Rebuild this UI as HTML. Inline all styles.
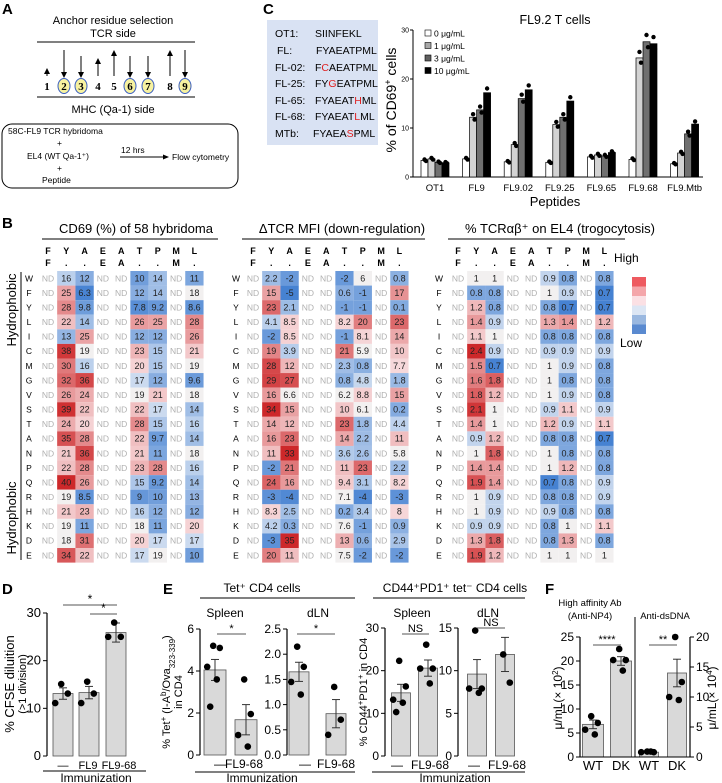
<!DOCTYPE html>
<html><head><meta charset="utf-8">
<style>
html,body{margin:0;padding:0;background:#fff;}
svg{display:block;font-family:"Liberation Sans",Arial,sans-serif;}
</style></head>
<body>
<svg id="fig" width="722" height="783" viewBox="0 0 722 783" xmlns="http://www.w3.org/2000/svg">
<!-- Panel A -->
<g>
<text x="2" y="14" font-size="15" font-weight="bold">A</text>
<text x="113" y="24" font-size="11" text-anchor="middle">Anchor residue selection</text>
<text x="113" y="37" font-size="11" text-anchor="middle">TCR side</text>
<line x1="37" y1="42" x2="195" y2="42" stroke="#000" stroke-width="1"/>
<line x1="37" y1="97" x2="195" y2="97" stroke="#000" stroke-width="1"/>
<text x="113" y="113" font-size="11" text-anchor="middle">MHC (Qa-1) side</text>
<g id="arrows"></g>
<rect x="2" y="124" width="236" height="64" rx="10" fill="none" stroke="#000" stroke-width="1"/>
<text x="8" y="134" font-size="8.5">58C-FL9 TCR hybridoma</text>
<text x="57" y="146" font-size="8.5">+</text>
<text x="27" y="159" font-size="8.5">EL4 (WT Qa-1⁺)</text>
<text x="57" y="171" font-size="8.5">+</text>
<text x="42" y="183" font-size="8.5">Peptide</text>
<text x="121" y="153" font-size="8.5">12 hrs</text>
<line x1="120" y1="157" x2="164" y2="157" stroke="#000"/>
<polygon points="169,157 163,154.5 163,159.5" fill="#000"/>
<text x="172" y="160" font-size="8.5">Flow cytometry</text>
</g>
<!-- Panel C -->
<g>
<text x="263" y="14" font-size="15" font-weight="bold">C</text>
<rect x="267" y="20" width="111" height="125" fill="#d9e2f3"/>
<g font-size="10.5">
<text x="275" y="37">OT1:</text><text x="315" y="37">SIINFEKL</text>
<text x="277" y="54">FL:</text><text x="316" y="54">FYAEATPML</text>
<text x="275" y="71">FL-02:</text><text x="315" y="71">F<tspan fill="#e02020">C</tspan>AEATPML</text>
<text x="275" y="87">FL-25:</text><text x="315" y="87">FY<tspan fill="#e02020">G</tspan>EATPML</text>
<text x="275" y="104">FL-65:</text><text x="315" y="104">FYAEAT<tspan fill="#e02020">H</tspan>ML</text>
<text x="275" y="120">FL-68:</text><text x="315" y="120">FYAEAT<tspan fill="#e02020">L</tspan>ML</text>
<text x="275" y="137">MTb:</text><text x="313" y="137">FYAEA<tspan fill="#e02020">S</tspan>PML</text>
</g>
<g id="chartC"></g>
</g>
<!-- Panel B -->
<g>
<text x="2" y="228" font-size="15" font-weight="bold">B</text>
<text x="136" y="233" font-size="13" text-anchor="middle">CD69 (%) of 58 hybridoma</text>
<text x="342" y="233" font-size="13" text-anchor="middle">ΔTCR MFI (down-regulation)</text>
<text x="560" y="233" font-size="13" text-anchor="middle">% TCRαβ⁺ on EL4 (trogocytosis)</text>
<line x1="42" y1="239" x2="218" y2="239" stroke="#000"/>
<line x1="242" y1="239" x2="425" y2="239" stroke="#000"/>
<line x1="448" y1="239" x2="625" y2="239" stroke="#000"/>
<text transform="translate(16,310) rotate(-90)" font-size="13" text-anchor="middle">Hydrophobic</text>
<text transform="translate(16,518) rotate(-90)" font-size="13" text-anchor="middle">Hydrophobic</text>
<line x1="21" y1="272" x2="21" y2="560" stroke="#000"/>
<g id="heatmaps"></g>
<text x="614" y="262" font-size="12">High</text>
<g id="legendB"></g>
<text x="620" y="347" font-size="12">Low</text>
</g>
<g id="panelD"></g>
<g id="panelE"></g>
<g id="panelF"></g>
</svg>
<script>
// ---------- Panel C data ----------
const cCategories = ["OT1","FL9","FL9.02","FL9.25","FL9.65","FL9.68","FL9.Mtb"];
const cDose0 = [3.4,3.7,3.1,3.0,4.1,3.6,2.7];
const cDose1 = [3.7,12.2,6.6,10.7,4.5,24.3,4.9];
const cDose3 = [3.0,13.7,16.0,12.2,4.3,27.6,8.8];
const cDose10 = [2.9,17.2,17.8,15.5,5.0,27.2,10.8];
const cTicks = [0,10,20,30];
const cLegend = ["0 μg/mL","1 μg/mL","3 μg/mL","10 μg/mL"];
// ---------- Panel B data ----------
const rowsB = ["W","F","Y","L","I","C","M","G","V","S","T","A","N","P","Q","R","H","K","D","E"];
const headTop = ["F","Y","A","E","A","T","P","M","L"];
const headBot = ["F",".",".","E","A",".",".","M","."];
const h1Y = [16,25,28,22,13,38,30,32,26,39,24,35,21,22,40,19,21,19,18,34];
const h1A = [12,6.3,9.8,14,25,19,16,36,24,22,20,28,36,28,26,8.5,23,11,31,22];
const h1T = [10,12,7.8,26,12,23,20,17,19,22,28,22,21,23,15,9,16,18,20,17];
const h1P = [14,14,9.2,25,12,15,15,12,21,17,15,9.7,11,28,9.2,10,12,11,17,19];
const h1L = [11,18,8.6,28,26,21,19,9.6,18,14,16,14,18,16,14,13,12,20,17,10];
const h2Y = [2.2,15,23,4.1,-2,19,28,29,16,34,14,16,11,-2,24,-3,8.3,4.2,-3,20];
const h2A = [-2,-5,2.1,8.5,8.5,3.9,12,27,6.6,15,12,23,33,21,16,-4,2.5,0.3,35,11];
const h2T = [-2,0.6,-1,8.2,-1,21,2.3,0.8,6.2,10,23,14,3.6,11,9.4,7.1,0.2,7.6,13,7.5];
const h2P = [6,-1,-1,20,8.1,5.9,0.8,4.8,8.8,6.1,1.8,2.2,2.6,23,3.1,-4,3.4,-1,0.6,-2];
const h2L = [0.8,17,0.1,23,14,10,7.7,1.8,15,0.2,4.4,11,5.8,2.2,8.2,-3,8,0.9,2.9,-2];
const h3Y = [1,0.8,1.2,1.4,1.1,2.4,1.5,1.6,1.8,2.1,1.4,0.9,1,1.4,1.9,1,1,0.9,1.3,1.9];
const h3A = [1,0.8,0.8,0.9,1,0.9,0.7,1.8,1.2,1,1,1.2,1.8,1.4,1.4,0.9,0.9,0.9,1.8,1.2];
const h3T = [0.9,1,0.8,1.3,0.8,0.9,1,1,1,0.9,1.2,0.8,1,1,0.7,0.8,0.9,0.8,0.8,1];
const h3P = [0.8,0.9,0.7,1.4,0.8,0.9,0.9,0.8,0.9,1.1,0.9,0.8,0.8,1.2,0.8,0.8,0.8,1,1.3,1];
const h3L = [0.8,0.7,0.7,1.2,0.8,0.9,0.8,0.8,0.8,0.9,1.1,0.7,0.8,0.8,0.9,0.9,0.8,1.1,0.8,1];
// ---------- Panel D data ----------
const dCategories = ["—","FL9","FL9-68"];
const dMeans = [13.1,13.3,25.9];
const dSem = [1.2,1.3,2.0];
const dPoints = [[15.1,13.1,11.1],[15.6,13.1,11.1],[28,25,25]];
const dTicks = [0,10,20,30];
// ---------- Panel E data ----------
const eCategories = ["—","FL9-68"];
const e1Means = [4.05,1.68], e1Sem=[0.5,0.72], e1Points=[[5.2,5.1,4.2,3.6,2.3],[3.6,1.95,0.95,0.4]], e1Ticks=[0,2,4,6];
const e2Means = [1.65,0.82], e2Sem=[0.19,0.28], e2Points=[[2.15,1.75,1.45,1.2],[1.35,0.7,0.4]], e2Ticks=[0,0.5,1.0,1.5,2.0,2.5];
const e3Means = [14.8,20.6], e3Sem=[2.0,1.9], e3Points=[[22.3,16.3,13.2,12.5,10.3],[26.1,20.5,20.5,17]], e3Ticks=[0,10,20,30];
const e4Means = [9.6,11.9], e4Sem=[1.7,2.0], e4Points=[[14.7,7.9,7.9,7.4],[11.9,8.6]], e4Ticks=[0,5,10,15];
// ---------- Panel F data ----------
const fCategories = ["WT","DK"];
const f1Means = [6.8,20.0], f1Sem=[0.9,0.9], f1Points=[[8.5,7.1,5.7,4.7],[22.5,20.2,20.2,18]], f1Ticks=[0,5,10,15,20,25];
const f2Means = [0.8,14.0], f2Sem=[0.15,2.3], f2Points=[[0.9,0.8,0.8,0.9],[20,12.5,10,9.5]], f2Ticks=[0,5,10,15,20];

const NS="http://www.w3.org/2000/svg";
function mk(tag, attrs, parent){const e=document.createElementNS(NS,tag);for(const k in attrs)e.setAttribute(k,attrs[k]);if(parent)parent.appendChild(e);return e;}
function txt(x,y,s,size,anchor,parent,extra){const t=mk("text",Object.assign({x:x,y:y,"font-size":size,"text-anchor":anchor||"start"},extra||{}),parent);t.textContent=s;return t;}

// ---------- Panel A arrows ----------
(function(){
 const g=document.getElementById("arrows");
 const xs=[47,64,81,98,114,130,148,170,185];
 const dir=["u","d","d","u","u","d","d","u","d"];
 const top=[68,50,56,58,50,56,56,50,50];
 const circ=[false,true,true,false,false,true,true,false,true];
 xs.forEach((x,i)=>{
  if(dir[i]==="u"){mk("line",{x1:x,y1:76,x2:x,y2:top[i]+5,stroke:"#000"},g);mk("polygon",{points:`${x},${top[i]} ${x-3},${top[i]+6} ${x+3},${top[i]+6}`},g);}
  else{mk("line",{x1:x,y1:top[i],x2:x,y2:73,stroke:"#000"},g);mk("polygon",{points:`${x},78 ${x-3},72 ${x+3},72`},g);}
  if(circ[i])mk("ellipse",{cx:x,cy:86,rx:6,ry:7.5,fill:"#f7f2a0",stroke:"#3b5fc0","stroke-width":1},g);
  const t=txt(x,90,String(i+1),11,"middle",g,{"font-family":"Liberation Serif, serif","font-weight":"bold"});
  
  
 });
})();

// ---------- Panel C chart ----------
(function(){
 const g=document.getElementById("chartC");
 const x0=413,x1=703,y0=177,yTop=30;
 const ys=v=>y0-(v/30)*(y0-yTop);
 const xc=i=>435+i*41.6;
 mk("line",{x1:x0,y1:yTop,x2:x0,y2:y0,stroke:"#000"},g);
 mk("line",{x1:x0,y1:y0,x2:x1,y2:y0,stroke:"#000"},g);
 cTicks.forEach(t=>{mk("line",{x1:x0-3,y1:ys(t),x2:x0,y2:ys(t),stroke:"#000"},g);txt(x0-4,ys(t)+2.5,String(t),7,"end",g);});
 const series=[cDose0,cDose1,cDose3,cDose10];
 const fills=["#fff","#d3d3d3","#707070","#000"];
 cCategories.forEach((c,i)=>{
  const l=txt(xc(i),191,c,9.5,"middle",g);
  
  
  series.forEach((s,j)=>{
   const bx=xc(i)-14+j*7;
   const r=mk("rect",{x:bx,y:ys(s[i]),width:7,height:y0-ys(s[i]),fill:fills[j],stroke:"#000","stroke-width":0.7},g);
   
   
   mk("circle",{cx:bx+3.5,cy:ys(s[i]*1.05),r:2.2,fill:"#000"},g);
   mk("circle",{cx:bx+5,cy:ys(s[i]*0.96),r:2.2,fill:"#000"},g);
  });
 });
 txt(555,24,"FL9.2 T cells",12.5,"middle",g);
 txt(555,206,"Peptides",13,"middle",g);
 const yl=txt(0,0,"",14,"middle",g,{transform:"translate(396,100) rotate(-90)"});
 yl.innerHTML='% of CD69<tspan baseline-shift="super" font-size="9">+</tspan> cells';
 
 
 const lf=["#fff","#a8a8a8","#606060","#000"];
 cLegend.forEach((s,j)=>{
  const yy=30+j*12.5;
  mk("rect",{x:425,y:yy,width:6,height:6,fill:lf[j],stroke:"#000","stroke-width":0.6},g);
  const t=txt(434,yy+6.5,s,8.5,"start",g);
  
  
 });
})();

// ---------- Panel B heatmaps ----------
function lerp(a,b,t){return a.map((v,i)=>Math.round(v+(b[i]-v)*t));}
function colorFor(v,mid,lo,hi){
 const W=[242,240,240],R=[205,40,42],B=[70,130,210];
 let c;
 if(v>=mid){const t=Math.min(1,(v-mid)/(hi-mid));c=lerp([250,232,234],R,Math.pow(t,0.9));if(t<0.06)c=W;}
 else{const t=Math.min(1,(mid-v)/(mid-lo));c=lerp([224,232,244],B,Math.pow(t,0.8));if(t<0.06)c=W;}
 return `rgb(${c[0]},${c[1]},${c[2]})`;
}
(function(){
 const g=document.getElementById("heatmaps");
 const hm=[
  {lx:29,cx:48,cols:[null,h1Y,h1A,null,null,h1T,h1P,null,h1L],mid:18,lo:6,hi:40},
  {lx:236,cx:253,cols:[null,h2Y,h2A,null,null,h2T,h2P,null,h2L],mid:6,lo:-5,hi:33},
  {lx:439,cx:458,cols:[null,h3Y,h3A,null,null,h3T,h3P,null,h3L],mid:0.93,lo:0.7,hi:2.2}
 ];
 const cw=18.3,rh=14.58,top=271;
 hm.forEach((h,k)=>{
  const hg=mk("g",{},g);
  
  
  headTop.forEach((s,i)=>{txt(h.cx+i*cw,254,s,9,"middle",hg,{"font-weight":"bold"});txt(h.cx+i*cw,266,headBot[i],9,"middle",hg,{"font-weight":"bold"});});
  rowsB.forEach((r,ri)=>{
   const yc=top+ri*rh+rh/2;
   txt(h.lx,yc+3,r,8.5,"middle",hg);
   h.cols.forEach((col,ci)=>{
    const x=h.cx+ci*cw;
    if(col===null){txt(x,yc+3,"ND",8.5,"middle",hg,{fill:"#b0b0b0"});return;}
    const v=col[ri];
    const cell=mk("rect",{x:x-cw/2,y:top+ri*rh,width:cw,height:rh,fill:colorFor(v,h.mid,h.lo,h.hi)},hg);
    
    
    txt(x,yc+3,String(v),9,"middle",hg,{fill:"#222"});
   });
  });
 });
 const lg=document.getElementById("legendB");
 ["#ee5a60","#f4a6aa","#fbe0e4","#dce6f4","#9ab8e0","#5a8ad0"].forEach((c,i)=>mk("rect",{x:632,y:277+i*9.5,width:14,height:9.5,fill:c},lg));
})();

// ---------- bar plot helper ----------
function barPlot(g,o){
 const ys=v=>o.y0-(v/o.max)*(o.y0-o.yTop);
 mk("line",{x1:o.ax,y1:o.yTop,x2:o.ax,y2:o.y0,stroke:"#000","stroke-width":1.2},g);
 o.ticks.forEach(t=>{
  mk("line",{x1:o.ax,y1:ys(t),x2:o.right?o.ax+4:o.ax-4,y2:ys(t),stroke:"#000"},g);
  txt(o.right?o.ax+6:o.ax-6,ys(t)+4,o.fmt?o.fmt(t):String(t),o.tickSize||12,o.right?"start":"end",g);
 });
 o.means.forEach((m,i)=>{
  const c=o.centers[i];
  const r=mk("rect",{x:c-o.bw/2,y:ys(m),width:o.bw,height:o.y0-ys(m),fill:"#d9d9d9",stroke:"#555","stroke-width":0.8},g);
  
  
  const e1=ys(m+o.sem[i]),e2=ys(m-o.sem[i]);
  mk("line",{x1:c,y1:e1,x2:c,y2:e2,stroke:"#333"},g);
  mk("line",{x1:c-4,y1:e1,x2:c+4,y2:e1,stroke:"#333"},g);
  mk("line",{x1:c-4,y1:e2,x2:c+4,y2:e2,stroke:"#333"},g);
  const pts=o.points[i];
  pts.forEach((p,j)=>{
   const off=pts.length>1?(j%2===0?-1:1)*Math.min(6,o.bw/3)*((j%3)/2+0.3):0;
   const d=mk("circle",{cx:c+off,cy:ys(p),r:o.pr||3.3,fill:"#000"},g);
   
   
  });
  if(o.labels)txt(c+(o.labelOff?o.labelOff[i]:0),o.y0+13,o.labels[i],o.labelSize||12,"middle",g);
 });
 return ys;
}
function sig(g,x1,x2,y,s,size){mk("line",{x1:x1,y1:y,x2:x2,y2:y,stroke:"#555"},g);txt((x1+x2)/2,y-2,s,size||11,"middle",g);}

// ---------- Panel D ----------
(function(){
 const g=document.getElementById("panelD");
 txt(2,594,"D",15,"start",g,{"font-weight":"bold"});
 barPlot(g,{ax:47,y0:756,yTop:613,max:30,ticks:dTicks,means:dMeans,sem:dSem,points:dPoints,centers:[63,89,116],bw:20,labels:dCategories,tickSize:13,labelSize:11,labelOff:[0,-1,3]});
 sig(g,63,117,605,"*",12);sig(g,90,117,614,"*",12);
 mk("line",{x1:43,y1:771,x2:146,y2:771,stroke:"#000"},g);
 txt(96,782,"Immunization",12,"middle",g);
 const yl=txt(0,0,"% CFSE diluition",13,"middle",g,{transform:"translate(14,684) rotate(-90)"});
 
 
 txt(0,0,"(>1 division)",11,"middle",g,{transform:"translate(26,684) rotate(-90)"});
})();

// ---------- Panel E ----------
(function(){
 const g=document.getElementById("panelE");
 txt(163,594,"E",15,"start",g,{"font-weight":"bold"});
 txt(262,592,"Tet⁺ CD4 cells",12,"middle",g);
 mk("line",{x1:200,y1:598,x2:355,y2:598,stroke:"#000"},g);
 txt(455,592,"CD44⁺PD1⁺ tet⁻ CD4 cells",12,"middle",g);
 mk("line",{x1:373,y1:598,x2:525,y2:598,stroke:"#000"},g);
 [["Spleen",225],["dLN",318],["Spleen",412],["dLN",488]].forEach(a=>txt(a[1],617,a[0],12,"middle",g));
 barPlot(g,{ax:200,y0:755,yTop:629,max:6,ticks:e1Ticks,means:e1Means,sem:e1Sem,points:e1Points,centers:[215,246],bw:22,labels:eCategories,labelOff:[5,-2]});
 sig(g,217,246,634,"*");
 barPlot(g,{ax:287,y0:755,yTop:629,max:2.5,ticks:e2Ticks,means:e2Means,sem:e2Sem,points:e2Points,centers:[299,336],bw:20,labels:eCategories,fmt:t=>t.toFixed(1),labelOff:[6,0]});
 sig(g,297,335,634,"*");
 barPlot(g,{ax:385,y0:756,yTop:628,max:30,ticks:e3Ticks,means:e3Means,sem:e3Sem,points:e3Points,centers:[401,428],bw:19,labels:eCategories,labelOff:[-4,2]});
 sig(g,402,429,634,"NS",11);
 barPlot(g,{ax:458,y0:756,yTop:628,max:15,ticks:e4Ticks,means:e4Means,sem:e4Sem,points:e4Points,centers:[477,505],bw:19,labels:eCategories,labelOff:[-3,2]});
 sig(g,477,505,628,"NS",11);
 mk("line",{x1:195,y1:772,x2:355,y2:772,stroke:"#000"},g);
 txt(262,782,"Immunization",12,"middle",g);
 mk("line",{x1:372,y1:772,x2:525,y2:772,stroke:"#000"},g);
 txt(455,782,"Immunization",12,"middle",g);
 const y1=mk("text",{transform:"translate(170,692) rotate(-90)","font-size":11,"text-anchor":"middle"},g);
 y1.innerHTML='% Tet<tspan baseline-shift="super" font-size="8">+</tspan> (I-A<tspan baseline-shift="super" font-size="8">b</tspan>/Ova<tspan baseline-shift="sub" font-size="8">323-339</tspan>)';
 
 
 txt(0,0,"in CD4",11,"middle",g,{transform:"translate(182,692) rotate(-90)"});
 const y3=mk("text",{transform:"translate(367,692) rotate(-90)","font-size":11,"text-anchor":"middle"},g);
 y3.innerHTML='% CD44<tspan baseline-shift="super" font-size="8">+</tspan>PD1<tspan baseline-shift="super" font-size="8">+</tspan> in CD4';
 
 
})();

// ---------- Panel F ----------
(function(){
 const g=document.getElementById("panelF");
 txt(545,594,"F",15,"start",g,{"font-weight":"bold"});
 txt(590,606,"High affinity Ab",9.5,"middle",g);
 txt(590,619,"(Anti-NP4)",9.5,"middle",g);
 txt(665,619,"Anti-dsDNA",9.5,"middle",g);
 barPlot(g,{ax:580,y0:757,yTop:637,max:25,ticks:f1Ticks,means:f1Means,sem:f1Sem,points:f1Points,centers:[593,621],bw:21,labels:fCategories,labelSize:13});
 sig(g,593,621,645,"****",11);
 barPlot(g,{ax:690,y0:757,yTop:637,max:20,ticks:f2Ticks,means:f2Means,sem:f2Sem,points:f2Points,centers:[649,677],bw:19,labels:fCategories,right:true,labelSize:13});
 sig(g,649,677,645,"**",11);
 mk("line",{x1:635,y1:617,x2:635,y2:757,stroke:"#000"},g);
 mk("line",{x1:580,y1:757,x2:690,y2:757,stroke:"#000"},g);
 const a=mk("text",{transform:"translate(562,698) rotate(-90)","font-size":12,"text-anchor":"middle"},g);
 a.innerHTML='μ/mL(× 10<tspan baseline-shift="super" font-size="8">2</tspan>)';
 
 
 const b=mk("text",{transform:"translate(716,698) rotate(-90)","font-size":12,"text-anchor":"middle"},g);
 b.innerHTML='μ/mL(× 10<tspan baseline-shift="super" font-size="8">4</tspan>)';
 
 
})();
</script>
</body></html>
